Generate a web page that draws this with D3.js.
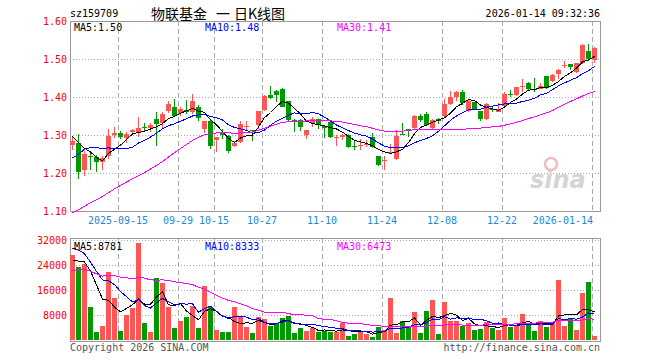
<!DOCTYPE html>
<html>
<head>
<meta charset="utf-8">
<script src="https://cdn.jsdelivr.net/npm/d3@7"></script>
<style>
  body { margin: 0; background: #fff; }
</style>
</head>
<body>
<div id="chart"></div>
<script>
// trading days shown
const dates = [
  "2025-09-03","2025-09-04","2025-09-05","2025-09-08","2025-09-09","2025-09-10","2025-09-11","2025-09-12",
  "2025-09-15","2025-09-16","2025-09-17","2025-09-18","2025-09-19","2025-09-22","2025-09-23","2025-09-24",
  "2025-09-25","2025-09-26","2025-09-29","2025-09-30","2025-10-09","2025-10-10","2025-10-13","2025-10-14",
  "2025-10-15","2025-10-16","2025-10-17","2025-10-20","2025-10-21","2025-10-22","2025-10-23","2025-10-24",
  "2025-10-27","2025-10-28","2025-10-29","2025-10-30","2025-10-31","2025-11-03","2025-11-04","2025-11-05",
  "2025-11-06","2025-11-07","2025-11-10","2025-11-11","2025-11-12","2025-11-13","2025-11-14","2025-11-17",
  "2025-11-18","2025-11-19","2025-11-20","2025-11-21","2025-11-24","2025-11-25","2025-11-26","2025-11-27",
  "2025-11-28","2025-12-01","2025-12-02","2025-12-03","2025-12-04","2025-12-05","2025-12-08","2025-12-09",
  "2025-12-10","2025-12-11","2025-12-12","2025-12-15","2025-12-16","2025-12-17","2025-12-18","2025-12-19",
  "2025-12-22","2025-12-23","2025-12-24","2025-12-25","2025-12-26","2025-12-29","2025-12-30","2025-12-31",
  "2026-01-05","2026-01-06","2026-01-07","2026-01-08","2026-01-09","2026-01-12","2026-01-13","2026-01-14"
];

const open = [
  1.275,1.279,1.207,1.244,1.242,1.228,1.244,1.300,1.305,1.293,1.307,1.307,1.321,1.318,1.343,1.332,
  1.362,1.375,1.358,1.367,1.360,1.375,1.316,1.336,1.286,1.304,1.298,1.270,1.281,1.322,1.313,1.327,
  1.367,1.404,1.417,1.422,1.389,1.340,1.340,1.301,1.332,1.343,1.325,1.334,1.291,1.294,1.301,1.272,
  1.273,1.274,1.295,1.246,1.232,1.253,1.237,1.302,1.316,1.318,1.351,1.356,1.318,1.341,1.351,1.382,
  1.399,1.412,1.362,1.386,1.362,1.342,1.369,1.361,1.377,1.409,1.404,1.428,1.437,1.422,1.421,1.454,
  1.441,1.461,1.481,1.488,1.465,1.489,1.520,1.498
];
const high = [
  1.296,1.303,1.257,1.253,1.248,1.246,1.316,1.321,1.310,1.307,1.316,1.347,1.332,1.332,1.360,1.360,
  1.390,1.396,1.373,1.391,1.409,1.380,1.338,1.340,1.295,1.316,1.301,1.283,1.336,1.338,1.313,1.364,
  1.405,1.428,1.419,1.423,1.390,1.341,1.342,1.314,1.347,1.343,1.326,1.337,1.301,1.302,1.302,1.283,
  1.290,1.288,1.305,1.246,1.244,1.276,1.312,1.332,1.317,1.352,1.354,1.360,1.341,1.346,1.395,1.415,
  1.415,1.418,1.391,1.387,1.363,1.384,1.377,1.383,1.412,1.418,1.427,1.448,1.439,1.450,1.437,1.455,
  1.461,1.475,1.494,1.488,1.490,1.539,1.540,1.532
];
const low = [
  1.260,1.183,1.191,1.209,1.202,1.209,1.237,1.291,1.289,1.279,1.300,1.296,1.310,1.307,1.270,1.318,
  1.358,1.347,1.349,1.354,1.356,1.338,1.304,1.264,1.254,1.290,1.253,1.268,1.279,1.314,1.283,1.316,
  1.364,1.396,1.386,1.373,1.338,1.307,1.310,1.290,1.321,1.316,1.291,1.292,1.272,1.286,1.266,1.261,
  1.260,1.268,1.266,1.219,1.207,1.251,1.233,1.299,1.295,1.316,1.333,1.325,1.316,1.330,1.347,1.380,
  1.389,1.380,1.360,1.365,1.336,1.340,1.360,1.360,1.377,1.399,1.402,1.412,1.415,1.412,1.420,1.421,
  1.440,1.448,1.476,1.470,1.463,1.488,1.494,1.489
];
const close = [
  1.283,1.202,1.251,1.241,1.228,1.239,1.298,1.305,1.296,1.303,1.312,1.318,1.319,1.327,1.330,1.356,
  1.382,1.351,1.368,1.360,1.389,1.345,1.336,1.270,1.294,1.300,1.257,1.279,1.330,1.324,1.310,1.362,
  1.403,1.397,1.404,1.375,1.340,1.335,1.321,1.312,1.342,1.327,1.318,1.296,1.296,1.301,1.268,1.270,
  1.275,1.277,1.268,1.222,1.235,1.256,1.298,1.300,1.311,1.351,1.340,1.327,1.340,1.338,1.382,1.400,
  1.412,1.384,1.389,1.367,1.342,1.382,1.365,1.369,1.409,1.404,1.426,1.430,1.421,1.419,1.430,1.424,
  1.459,1.472,1.485,1.478,1.489,1.536,1.501,1.529
];
const volume = [
  27300,23470,24430,10450,2670,4370,21660,13440,2990,8110,10130,30940,5330,2670,19740,18140,
  10450,3950,6190,7470,10990,3730,17390,10450,3310,2670,2450,10450,7790,4050,2130,7260,
  6720,4370,5440,6940,7580,2130,3730,2990,3730,2670,2990,2450,2450,5440,1390,2030,
  2670,2030,1070,4270,3200,13340,2350,6080,4270,9070,2350,9390,12910,2030,12270,6190,
  6190,4590,5440,3310,3520,5660,3950,3310,7150,4270,4590,8430,5230,2880,6080,4270,
  5870,19310,4590,6940,3310,14940,18460,1170
];

// sessions before the window, only feed the moving averages
const priorClose = [
  0.97,0.96,0.98,0.99,0.98,0.99,1.01,1.02,1.04,1.06,1.07,1.08,1.04,1.05,1.04,
  1.02,1.02,1.03,1.05,1.07,1.10,1.12,1.20,1.23,1.26,1.28,1.33,1.29,1.30
];
const priorVolume = [
  15000,18000,30000,28000,25000,16000,14000,18000,15000,20000,17000,12000,20000,22000,16000,
  15000,18000,14000,17000,20000,30000,36000,38000,32000,31500,24000,26000,25000,24600
];

const priceTicks = [1.10, 1.20, 1.30, 1.40, 1.50, 1.60];
const volTicks = [8000, 16000, 24000, 32000];
const dateTicks = ["2025-09-15","2025-09-29","2025-10-15","2025-10-27","2025-11-10","2025-11-24","2025-12-08","2025-12-22","2026-01-14"];
const dateTickLabels = ["2025-09-15","09-29","10-15","10-27","11-10","11-24","12-08","12-22","2026-01-14"];
const maPeriods = [5, 10, 30];
const maColors = ["#000000", "#0000ff", "#ff00ff"];
const priceMaLabels = ["MA5:1.50", "MA10:1.48", "MA30:1.41"];
const volMaLabels = ["MA5:8781", "MA10:8333", "MA30:6473"];

const up = "#ff5555", down = "#009900", gridColor = "#aaaaaa";

let svg = d3.select("#chart").append("svg")
  .attr("width", 660)
  .attr("height", 360)
  .style("font-family", "'DejaVu Sans Mono', monospace")
  .style("font-size", "10px");

let x = d3.scaleBand()
  .domain(dates)
  .range([70, 597])
  .paddingInner(1 / 6)
  .paddingOuter(0);
const cx = d => x(d) + 2.5;

let y = d3.scaleLinear().domain([1.10, 1.60]).range([211, 21]);
let yv = d3.scaleLinear().domain([0, 32000]).range([340, 240]);

const movingAvg = (all, n, offset) =>
  d3.range(offset, all.length).map(i => d3.mean(all.slice(i - n + 1, i + 1)));

const allClose = priorClose.concat(close);
const allVol = priorVolume.concat(volume);

// header
svg.append("text").attr("x", 70).attr("y", 17).text("sz159709");
const cjk = "'Noto Sans CJK SC', sans-serif";
[["物联基金", 151], ["一", 216], ["日K线图", 234]].forEach(t => {
  svg.append("text").attr("x", t[1]).attr("y", 19)
    .style("font-family", cjk).style("font-size", "14px").text(t[0]);
});
svg.append("text").attr("x", 600).attr("y", 17).attr("text-anchor", "end").text("2026-01-14 09:32:36");

function drawPanel(top, bottom, scale, ticks, fmt) {
  let g = svg.append("g").attr("shape-rendering", "crispEdges");
  ticks.forEach(t => {
    let yy = Math.round(scale(t)) + 0.5;
    if (yy > top + 1 && yy < bottom - 1) {
      g.append("line").attr("x1", 70).attr("x2", 600).attr("y1", yy).attr("y2", yy)
        .attr("stroke", gridColor).attr("stroke-dasharray", "1,2");
    }
    g.append("text").attr("x", 67).attr("y", scale(t) + 4)
      .attr("text-anchor", "end").attr("fill", "#ff0000").text(fmt(t));
  });
  dateTicks.forEach(d => {
    g.append("line").attr("x1", x(d) + 0.5).attr("x2", x(d) + 0.5)
      .attr("y1", top).attr("y2", bottom)
      .attr("stroke", gridColor).attr("stroke-dasharray", "5,3");
  });
  g.append("rect").attr("x", 70.5).attr("y", top + 0.5)
    .attr("width", 530).attr("height", bottom - top)
    .attr("fill", "none").attr("stroke", "#999999");
}

drawPanel(21, 211, y, priceTicks, d => d.toFixed(2));
drawPanel(238, 341, yv, volTicks, d => d);

// date labels
dateTicks.forEach((d, i) => {
  let last = i === dateTicks.length - 1;
  svg.append("text").attr("x", last ? x(d) + 1 : x(d))
    .attr("y", 224)
    .attr("text-anchor", last ? "end" : "middle")
    .attr("fill", "#1a8ad6")
    .text(dateTickLabels[i]);
});

// watermark
let wm = svg.append("g").attr("opacity", 0.35);
wm.append("text").attr("x", 530).attr("y", 188)
  .style("font-family", "'DejaVu Sans', sans-serif").style("font-size", "24px")
  .style("font-style", "italic").style("font-weight", "bold")
  .attr("fill", "#888888").text("sina");
wm.append("circle").attr("cx", 551).attr("cy", 164).attr("r", 6)
  .attr("fill", "none").attr("stroke", "#dd4444").attr("stroke-width", 2.5);

// candles
let candles = svg.selectAll(".candle")
  .data(dates)
  .enter()
  .append("g")
  .classed("candle", true)
  .attr("shape-rendering", "crispEdges");

candles.append("line")
  .attr("x1", d => Math.floor(cx(d)) + 0.5)
  .attr("x2", d => Math.floor(cx(d)) + 0.5)
  .attr("y1", (d, i) => y(high[i]))
  .attr("y2", (d, i) => y(low[i]))
  .attr("stroke", (d, i) => close[i] >= open[i] ? up : down);

candles.append("rect")
  .attr("x", d => x(d))
  .attr("width", x.bandwidth())
  .attr("y", (d, i) => y(Math.max(open[i], close[i])))
  .attr("height", (d, i) => Math.max(1, Math.abs(y(open[i]) - y(close[i]))))
  .attr("fill", (d, i) => close[i] >= open[i] ? up : down);

// volume bars
svg.selectAll(".vol")
  .data(dates)
  .enter()
  .append("rect")
  .classed("vol", true)
  .attr("shape-rendering", "crispEdges")
  .attr("x", d => x(d))
  .attr("width", x.bandwidth())
  .attr("y", (d, i) => yv(volume[i]))
  .attr("height", (d, i) => yv(0) - yv(volume[i]))
  .attr("fill", (d, i) => close[i] >= open[i] ? up : down);

// moving averages
maPeriods.forEach((n, k) => {
  let pm = movingAvg(allClose, n, priorClose.length);
  let vm = movingAvg(allVol, n, priorVolume.length);
  svg.append("path").datum(pm)
    .attr("fill", "none").attr("stroke", maColors[k]).attr("stroke-width", 1)
    .attr("shape-rendering", "crispEdges")
    .attr("d", d3.line().x((d, i) => cx(dates[i])).y(d => y(d)));
  svg.append("path").datum(vm)
    .attr("fill", "none").attr("stroke", maColors[k]).attr("stroke-width", 1)
    .attr("shape-rendering", "crispEdges")
    .attr("d", d3.line().x((d, i) => cx(dates[i])).y(d => yv(d)));
});

// legends
const legendX = [74, 205, 337];
maPeriods.forEach((n, k) => {
  svg.append("text").attr("x", legendX[k]).attr("y", 31)
    .attr("fill", maColors[k]).text(priceMaLabels[k]);
  svg.append("text").attr("x", legendX[k]).attr("y", 250)
    .attr("fill", maColors[k]).text(volMaLabels[k]);
});

svg.append("text").attr("x", 70).attr("y", 351).attr("fill", "#555555").text("Copyright 2026 SINA.COM");
svg.append("text").attr("x", 600).attr("y", 351).attr("text-anchor", "end")
  .attr("fill", "#555555").text("http://finance.sina.com.cn");
</script>
</body>
</html>
